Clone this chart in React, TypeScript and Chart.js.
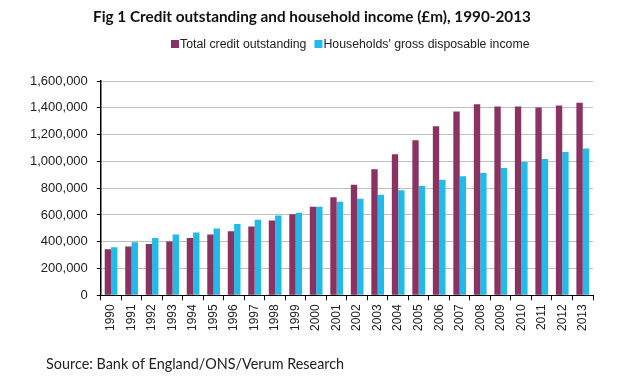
import React, { useEffect, useRef } from "react";
import { Chart, registerables } from "chart.js";

Chart.register(...registerables);

const title = "Fig 1 Credit outstanding and household income (£m), 1990-2013";
const source = "Source: Bank of England/ONS/Verum Research";
const years = [
  "1990", "1991", "1992", "1993", "1994", "1995", "1996", "1997", "1998", "1999", "2000", "2001",
  "2002", "2003", "2004", "2005", "2006", "2007", "2008", "2009", "2010", "2011", "2012", "2013",
];
const creditLabel = "Total credit outstanding";
const incomeLabel = "Households' gross disposable income";
const credit = [
  343000, 365000, 383000, 402000, 427000, 454000, 479000, 514000, 558000, 605000, 662000, 733000,
  825000, 941000, 1054000, 1158000, 1262000, 1373000, 1427000, 1410000, 1410000, 1402000, 1417000, 1437000,
];
const income = [
  358000, 397000, 427000, 454000, 469000, 499000, 533000, 565000, 595000, 617000, 662000, 699000,
  721000, 751000, 785000, 817000, 862000, 889000, 914000, 951000, 995000, 1017000, 1069000, 1096000,
];
const yMax = 1600000;
const yStep = 200000;

const textPlugin = {
  id: "textPlugin",
  afterDraw(chart: any) {
    const ctx = chart.ctx;
    ctx.save();
    // title
    ctx.fillStyle = "#111";
    ctx.font = "bold 15.3px Lato";
    ctx.textAlign = "center";
    ctx.textBaseline = "middle";
    ctx.fillText(title, 312, 17);
    // legend
    ctx.font = "12.3px 'Liberation Sans'";
    ctx.textAlign = "left";
    let x = 171;
    const cy = 44;
    chart.data.datasets.forEach((ds: any) => {
      ctx.fillStyle = ds.backgroundColor;
      ctx.fillRect(x, cy - 4, 8, 8);
      ctx.fillStyle = "#222";
      ctx.fillText(ds.label, x + 9, cy + 1);
      x += 9 + ctx.measureText(ds.label).width + 8;
    });
    // source
    ctx.font = "14.4px Lato";
    ctx.fillStyle = "#222";
    ctx.fillText(source, 46, 364);
    ctx.restore();
  },
};

export default function App() {
  const ref = useRef<HTMLCanvasElement | null>(null);
  useEffect(() => {
    if (!ref.current) return;
    const chart = new Chart(ref.current, {
      type: "bar",
      data: {
        labels: years,
        datasets: [
          { label: creditLabel, data: credit, backgroundColor: "#8A3262", borderWidth: 0 },
          { label: incomeLabel, data: income, backgroundColor: "#21BBEA", borderWidth: 0 },
        ],
      },
      options: {
        responsive: false,
        animation: false,
        devicePixelRatio: 1,
        layout: { padding: { left: 21, right: 41, top: 81, bottom: 45 } },
        datasets: { bar: { categoryPercentage: 0.62, barPercentage: 1.0 } },
        plugins: {
          legend: { display: false },
          title: { display: false },
          tooltip: { enabled: false },
        },
        scales: {
          x: {
            grid: { drawOnChartArea: false, drawTicks: true, tickLength: 5, color: "#000", offset: true },
            border: { display: true, color: "#000", width: 1 },
            ticks: {
              minRotation: 90,
              maxRotation: 90,
              autoSkip: false,
              padding: 4,
              color: "#222",
              font: { family: "'Liberation Sans'", size: 12 },
            },
          },
          y: {
            min: 0,
            max: yMax,
            grid: { color: "#BFBFBF", tickColor: "#000", tickLength: 4, lineWidth: 1 },
            border: { display: true, color: "#000", width: 1.5 },
            ticks: {
              stepSize: yStep,
              padding: 9,
              color: "#222",
              font: { family: "'Liberation Sans'", size: 13 },
              callback: (v: any) => Number(v).toLocaleString("en-US"),
            },
          },
        },
      },
      plugins: [textPlugin],
    });
    return () => chart.destroy();
  }, []);
  return (
    <div style={{ position: "fixed", left: 0, top: 0, width: 634, height: 380, background: "#fff" }}>
      <canvas ref={ref} width={634} height={380} style={{ display: "block" }} />
    </div>
  );
}
